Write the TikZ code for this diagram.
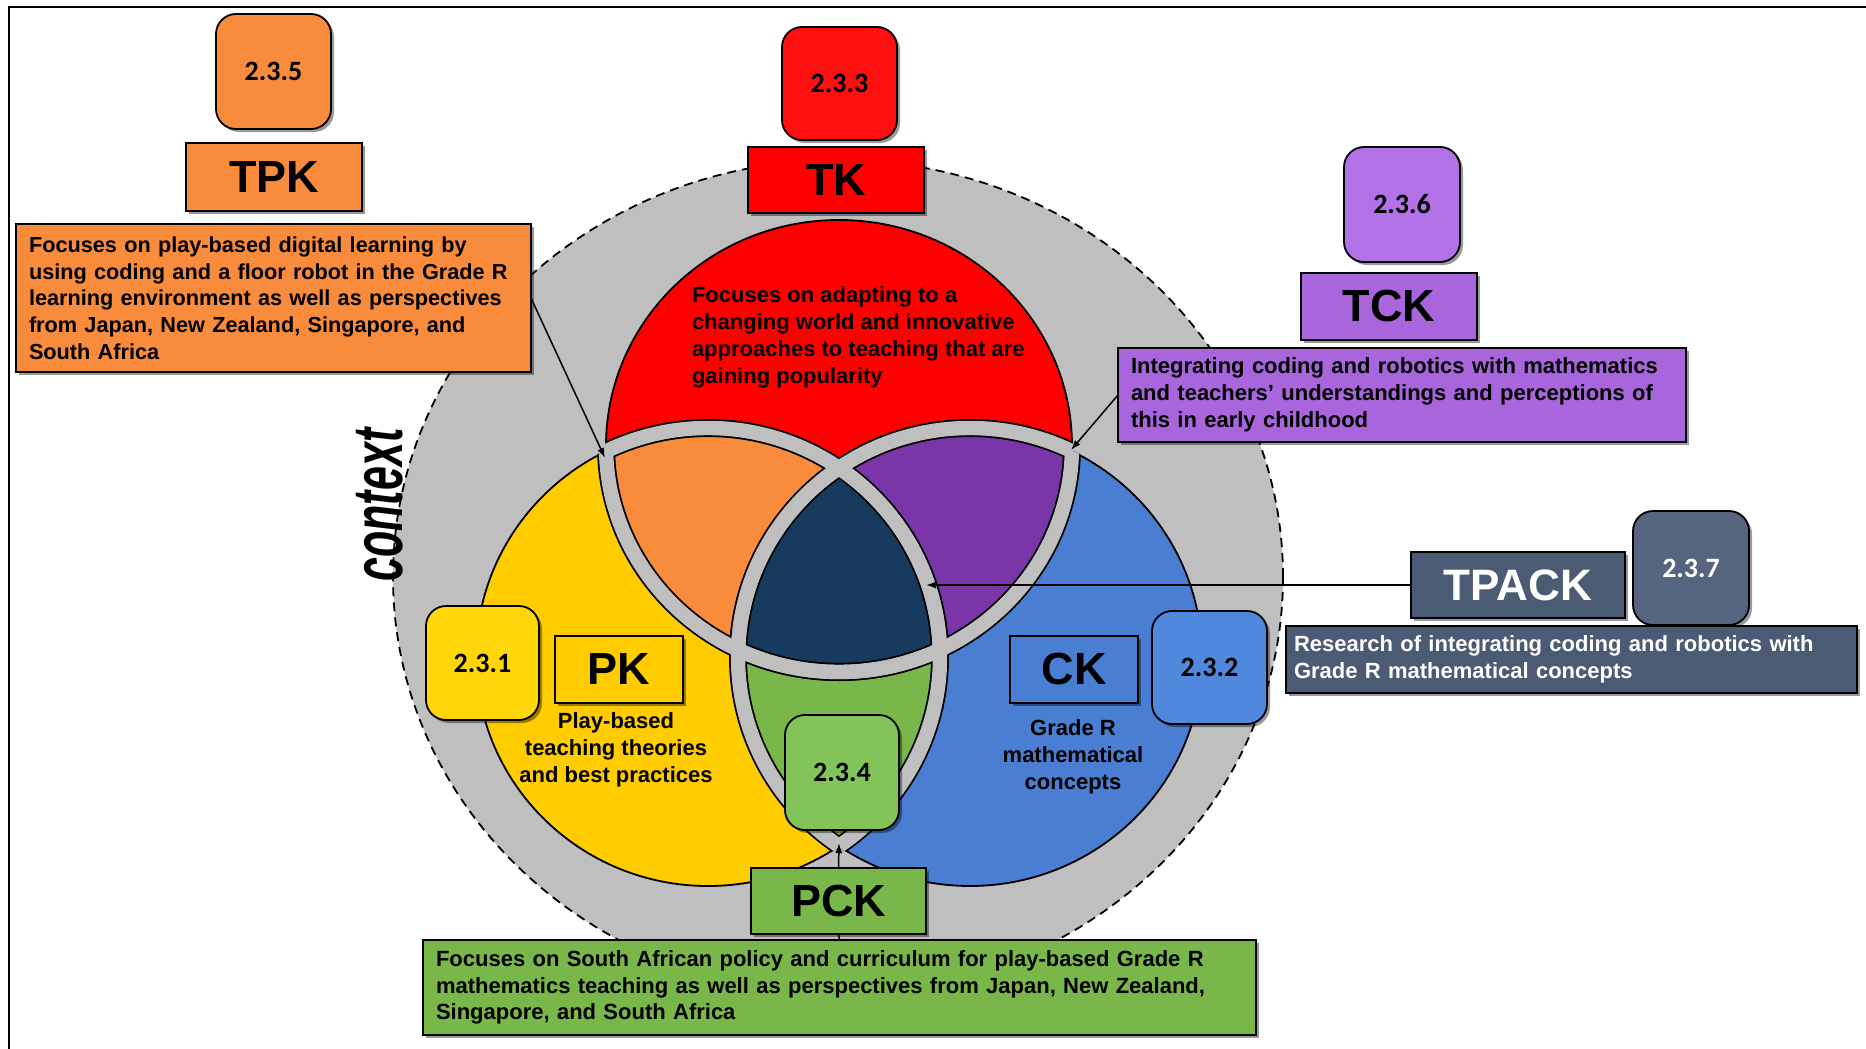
\documentclass[tikz,border=0pt]{standalone}
\usepackage{fontspec}
\setmainfont{Liberation Sans}
\newfontfamily\numfont{Carlito}
\usetikzlibrary{arrows.meta,shadows}
\definecolor{cGray}{HTML}{BFBFBF}
\definecolor{cRed}{HTML}{FF0000}
\definecolor{cRedB}{HTML}{FF1010}
\definecolor{cOrange}{HTML}{F98B3C}
\definecolor{cYellow}{HTML}{FFCC00}
\definecolor{cYellowB}{HTML}{FFD60A}
\definecolor{cBlue}{HTML}{4A7ED2}
\definecolor{cBlueB}{HTML}{5088DE}
\definecolor{cPurple}{HTML}{7A36A8}
\definecolor{cPurpleB}{HTML}{A865DC}
\definecolor{cPurpleN}{HTML}{B271E6}
\definecolor{cNavy}{HTML}{173B5E}
\definecolor{cGreen}{HTML}{7AB74B}
\definecolor{cGreenB}{HTML}{82C45A}
\definecolor{cSlate}{HTML}{4B5B74}
\definecolor{cSlateB}{HTML}{56657F}
\newcommand\VenR{(839,446) ellipse [x radius=233pt,y radius=226pt]}
\newcommand\VenY{(708,657) ellipse [x radius=232pt,y radius=229pt]}
\newcommand\VenB{(970,657) ellipse [x radius=232pt,y radius=229pt]}
\newcommand\VenRc{(839,446) ellipse [x radius=234pt,y radius=227pt]}
\newcommand\VenYc{(708,657) ellipse [x radius=233pt,y radius=230pt]}
\newcommand\VenBc{(970,657) ellipse [x radius=233pt,y radius=230pt]}
\tikzset{
  every node/.style={inner sep=0pt, outer sep=0pt},
  boxline/.style={draw=black, line width=1.8pt,
     drop shadow={shadow xshift=3pt,shadow yshift=-3pt,opacity=0.4,fill=black}},
  numbox/.style={boxline, rounded corners=20pt, anchor=north west,
     font=\numfont\bfseries\fontsize{28}{30}\selectfont},
  labbox/.style={boxline, anchor=north west, font=\bfseries\fontsize{45}{47}\selectfont},
  descbox/.style={boxline, anchor=north west, align=left,
     font=\bfseries\fontsize{22}{26.7}\selectfont},
  intext/.style={font=\bfseries\fontsize{22}{26.7}\selectfont},
  arr/.style={line width=1.5pt, -{Latex[length=10pt,width=7pt]}},
  gapblack/.style={draw=black, line width=18pt},
  gapgray/.style={draw=cGray, line width=14.4pt},
  outl/.style={draw=black, line width=1.8pt},
}
\begin{document}
\begin{tikzpicture}[x=1pt,y=-1pt]
\useasboundingbox (0,0) rectangle (1866,1049);
\fill[white] (0,0) rectangle (1866,1049);
\draw[line width=2.5pt] (1866,7) -- (9,7) -- (9,1049);
% context ellipse
\filldraw[fill=cGray, draw=black, line width=1.8pt, dash pattern=on 9pt off 6pt]
   (838,577) ellipse [x radius=445pt, y radius=417pt];
\node[font=\bfseries\itshape\fontsize{43}{45}\selectfont, rotate=90, yscale=1.65] (ctx) at (380,505) {context};
% Venn regions
\fill[cYellow] \VenY;
\fill[cBlue] \VenB;
\fill[cRed] \VenR;
\begin{scope}\clip \VenR; \fill[cOrange] \VenY; \fill[cPurple] \VenB; \end{scope}
\begin{scope}\clip \VenY; \fill[cGreen] \VenB; \end{scope}
\begin{scope}\clip \VenR; \clip \VenY; \fill[cNavy] \VenB; \end{scope}
\draw[outl] \VenY; \draw[outl] \VenB; \draw[outl] \VenR;
\begin{scope}\clip \VenRc; \draw[gapblack] \VenY; \draw[gapblack] \VenB; \end{scope}
\begin{scope}\clip \VenYc; \draw[gapblack] \VenR; \draw[gapblack] \VenB; \end{scope}
\begin{scope}\clip \VenBc; \draw[gapblack] \VenR; \draw[gapblack] \VenY; \end{scope}
\begin{scope}\clip \VenRc; \draw[gapgray] \VenY; \draw[gapgray] \VenB; \end{scope}
\begin{scope}\clip \VenYc; \draw[gapgray] \VenR; \draw[gapgray] \VenB; \end{scope}
\begin{scope}\clip \VenBc; \draw[gapgray] \VenR; \draw[gapgray] \VenY; \end{scope}
% texts inside circles
\node[intext, align=left, anchor=north west] (tktext) at (692,287)
  {Focuses on adapting to a\\changing world and innovative\\approaches to teaching that are\\gaining popularity};
\node[intext, align=center, anchor=north] (pktext) at (616,713)
  {Play-based\\teaching theories\\and best practices};
\node[intext, align=center, anchor=north] (cktext) at (1073,720)
  {Grade R\\mathematical\\concepts};
% TPK
\node[numbox, fill=cOrange, minimum width=115pt, minimum height=115pt] (n235) at (216,14) {2.3.5};
\node[labbox, fill=cOrange, minimum width=176pt, minimum height=68pt] (tpk) at (186,143) {TPK};
\node[descbox, fill=cOrange, text width=489pt, inner xsep=13pt, minimum height=148pt,
      font=\bfseries\fontsize{21.7}{26.7}\selectfont] (tpkt) at (16,224)
  {\mbox{Focuses on play-based digital learning by}\\\mbox{using coding and a floor robot in the Grade R}\\\mbox{learning environment as well as perspectives}\\\mbox{from Japan, New Zealand, Singapore, and}\\\mbox{South Africa}};
% TK
\node[numbox, fill=cRedB, minimum width=115pt, minimum height=113pt] (n233) at (782,27) {2.3.3};
\node[labbox, fill=cRed, minimum width=176pt, minimum height=66pt] (tk) at (748,147) {TK};
% TCK
\node[numbox, fill=cPurpleN, minimum width=116pt, minimum height=115pt] (n236) at (1344,147) {2.3.6};
\node[labbox, fill=cPurpleB, minimum width=176pt, minimum height=67pt] (tck) at (1301,273) {TCK};
\node[descbox, fill=cPurpleB, text width=542pt, inner xsep=13pt, minimum height=94pt] (tckt) at (1118,348)
  {\mbox{Integrating coding and robotics with mathematics}\\\mbox{and teachers’ understandings and perceptions of}\\\mbox{this in early childhood}};
% TPACK
\node[labbox, fill=cSlate, text=white, minimum width=214pt, minimum height=66pt, font=\bfseries\fontsize{44}{46}\selectfont] (tpack) at (1411,552) {TPACK};
\node[numbox, fill=cSlateB, text=white, minimum width=116pt, minimum height=114pt] (n237) at (1633,511) {2.3.7};
\node[descbox, fill=cSlate, text=white, text width=555pt, inner xsep=8pt, minimum height=67pt] (tpackt) at (1286,626)
  {\mbox{Research of integrating coding and robotics with}\\\mbox{Grade R mathematical concepts}};
% PK / CK
\node[numbox, fill=cYellowB, minimum width=113pt, minimum height=114pt] (n231) at (426,606) {2.3.1};
\node[labbox, fill=cYellow, minimum width=128pt, minimum height=67pt] (pk) at (555,636) {PK};
\node[labbox, fill=cBlue, minimum width=128pt, minimum height=67pt] (ck) at (1010,636) {CK};
\node[numbox, fill=cBlueB, minimum width=115pt, minimum height=113pt] (n232) at (1152,611) {2.3.2};
% PCK
\node[numbox, fill=cGreenB, minimum width=114pt, minimum height=115pt] (n234) at (785,715) {2.3.4};
\node[labbox, fill=cGreen, minimum width=175pt, minimum height=66pt] (pck) at (751,868) {PCK};
\node[descbox, fill=cGreen, text width=807pt, inner xsep=13pt, minimum height=95pt] (pckt) at (423,940)
  {\mbox{Focuses on South African policy and curriculum for play-based Grade R}\\\mbox{mathematics teaching as well as perspectives from Japan, New Zealand,}\\\mbox{Singapore, and South Africa}};
% connectors
\coordinate (tipO) at (605,458);
\coordinate (tipP) at (1071,450);
\coordinate (tipN) at (926,585);
\coordinate (tipG) at (839,843);
\draw[arr] (tpkt.east) -- (tipO);
\draw[arr] (tckt.west) -- (tipP);
\draw[arr] (tpack.west) -- (tipN);
\draw[arr] (pck.north) -- (tipG);
\draw[line width=1.5pt] (pck.south) -- (pckt.north);
\end{tikzpicture}
\end{document}
